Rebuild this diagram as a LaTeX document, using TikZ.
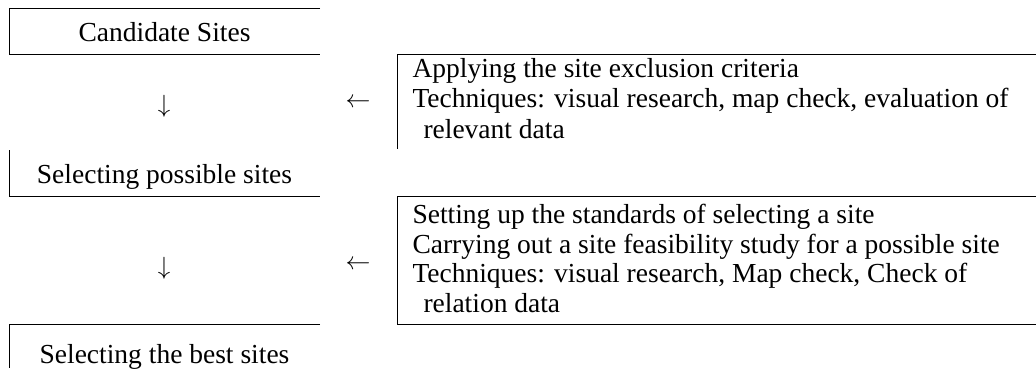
\documentclass[tikz,border=0pt]{standalone}
\usepackage{fontspec}
\setmainfont{Liberation Serif}
\begin{document}
\begin{tikzpicture}[x=1pt, y=-1pt, line width=1pt,
  lbl/.style={font=\fontsize{27.5pt}{30pt}\selectfont, inner sep=0pt},
  stage/.style={lbl, anchor=base},
  txtline/.style={lbl, anchor=base west},
  downmark/.style={inner sep=0pt, anchor=center, font=\fontsize{23pt}{23pt}\selectfont},
  leftmark/.style={inner sep=0pt, anchor=center, font=\fontsize{26pt}{26pt}\selectfont}]
\useasboundingbox (0,0) rectangle (1036,368);

% stages of the selection process (left column)
\node[stage] (cand) at (164.5,41) {Candidate Sites};
\node[stage] (poss) at (164.5,183) {Selecting possible sites};
\node[stage] (best) at (164.5,363) {Selecting the best sites};

\draw (320,8) -- (9,8) -- (9,54) -- (320,54);
\draw (9,150) -- (9,196) -- (320,196);
\draw (320,324) -- (9,324) -- (9,368);

% flow markers
\node[downmark] (down1) at (164,106) {$\downarrow$};
\node[leftmark] (left1) at (358,103) {$\leftarrow$};
\node[downmark] (down2) at (164,268) {$\downarrow$};
\node[leftmark] (left2) at (358,265) {$\leftarrow$};

% first filtering step
\draw (1036,54) -- (397,54) -- (397,149);
\node[txtline] (ex1) at (412,77) {Applying the site exclusion criteria};
\node[txtline] (ex2) at (412,107.5) {Techniques: visual research, map check, evaluation of};
\node[txtline] (ex3) at (423,138) {relevant data};

% second filtering step
\draw (1036,196) -- (397,196) -- (397,324) -- (1036,324);
\node[txtline] (st1) at (412,223) {Setting up the standards of selecting a site};
\node[txtline] (st2) at (412,253) {Carrying out a site feasibility study for a possible site};
\node[txtline] (st3) at (412,282.5) {Techniques: visual research, Map check, Check of};
\node[txtline] (st4) at (423,312.5) {relation data};
\end{tikzpicture}
\end{document}
